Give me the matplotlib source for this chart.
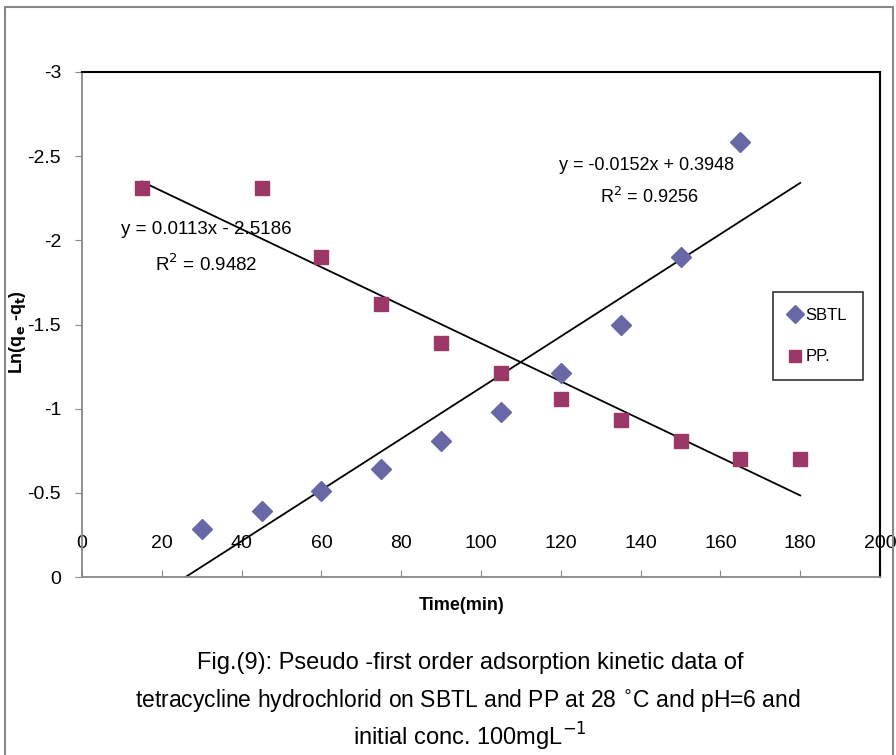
import matplotlib
matplotlib.use("Agg")
import matplotlib.pyplot as plt
import numpy as np
from matplotlib.patches import Rectangle

plt.rcParams['font.family'] = ['Liberation Sans', 'DejaVu Sans']

# Data
sbtl_x = [30, 45, 60, 75, 90, 105, 120, 135, 150, 165]
sbtl_y = [-0.285, -0.39, -0.51, -0.64, -0.81, -0.98, -1.21, -1.50, -1.90, -2.585]
pp_x = [15, 45, 60, 75, 90, 105, 120, 135, 150, 165, 180]
pp_y = [-2.31, -2.31, -1.90, -1.62, -1.39, -1.21, -1.06, -0.93, -0.81, -0.70, -0.70]

# Trendline coefficients (slope, intercept) from the chart equations
sbtl_fit = [-0.0152, 0.3948]
pp_fit = [0.0113, -2.5186]
trend_x = [15, 180]

x_ticks = [0, 20, 40, 60, 80, 100, 120, 140, 160, 180, 200]
y_ticks = [0, -0.5, -1, -1.5, -2, -2.5, -3]
y_tick_labels = ['0', '-0.5', '-1', '-1.5', '-2', '-2.5', '-3']

W, H = 896, 755
L, R, T, B = 82, 880, 72, 577
fig = plt.figure(figsize=(W / 100, H / 100), dpi=100)
ax = fig.add_axes([L / W, 1 - B / H, (R - L) / W, (B - T) / H])

c_sbtl = '#6868A6'
c_pp = '#9B3868'

ax.plot(sbtl_x, sbtl_y, linestyle='none', marker='D', ms=10.5, color=c_sbtl,
        mec=c_sbtl, label='SBTL', zorder=3)
ax.plot(pp_x, pp_y, linestyle='none', marker='s', ms=10.5, color=c_pp,
        mec=c_pp, label='PP.', zorder=3)

tx = np.array(trend_x, dtype=float)
ax.plot(tx, sbtl_fit[0] * tx + sbtl_fit[1], color='black', lw=1.3, zorder=2)
ax.plot(tx, pp_fit[0] * tx + pp_fit[1], color='black', lw=1.3, zorder=2)

ax.set_xlim(0, 200)
ax.set_ylim(0, -3)
ax.set_xticks(x_ticks)
ax.set_yticks(y_ticks)
ax.set_yticklabels(y_tick_labels)

ax.tick_params(axis='x', direction='in', length=5, pad=-30, labelsize=14,
               color='#888888')
ax.tick_params(axis='y', direction='out', length=5, labelsize=14,
               color='#888888', pad=10)

for s in ['left', 'bottom']:
    ax.spines[s].set_color('#888888')
    ax.spines[s].set_linewidth(1.3)
for s in ['top', 'right']:
    ax.spines[s].set_color('black')
    ax.spines[s].set_linewidth(1.5)


def px2data(px, py):
    return ((px - L) / (R - L) * 200, -(B - py) / (B - T) * 3)


x1, y1 = px2data(206, 230)
ax.text(x1, y1, 'y = 0.0113x - 2.5186', fontsize=13.5, ha='center', va='center')
x1, y1 = px2data(206, 264)
ax.text(x1, y1, r'R$^2$ = 0.9482', fontsize=13.5, ha='center', va='center')
x1, y1 = px2data(647, 166)
ax.text(x1, y1, 'y = -0.0152x + 0.3948', fontsize=13, ha='center', va='center')
x1, y1 = px2data(649, 197)
ax.text(x1, y1, r'R$^2$ = 0.9256', fontsize=13, ha='center', va='center')

leg = ax.legend(loc='upper left',
                bbox_to_anchor=((773 - L) / (R - L), 1 - (292 - T) / (B - T)),
                frameon=True, fancybox=False, edgecolor='black', fontsize=12,
                handlelength=0.7, handletextpad=0.3, labelspacing=1.6,
                borderpad=0.95, borderaxespad=0, markerscale=0.85)
leg.get_frame().set_linewidth(1.2)

fig.text(18 / W, 1 - 332 / H, r'Ln(q$_\mathbf{e}$ -q$_\mathbf{t}$)', rotation=90,
         fontsize=13, fontweight='bold', ha='center', va='center')
fig.text(462 / W, 1 - 605 / H, 'Time(min)', fontsize=13, fontweight='bold',
         ha='center', va='center')

fig.text(470 / W, 1 - 663 / H, 'Fig.(9): Pseudo -first order adsorption kinetic data of',
         fontsize=17, ha='center', va='center')
fig.text(468 / W, 1 - 700 / H,
         r'tetracycline hydrochlorid on SBTL and PP at 28 $^{\circ}$C and pH=6 and',
         fontsize=16.5, ha='center', va='center')
fig.text(470 / W, 1 - 737 / H, r'initial conc. 100mgL$^{-1}$',
         fontsize=17, ha='center', va='center')

fig.patches.append(Rectangle((5 / W, -0.05), (893 - 5) / W, 1.05 - 7 / H,
                             transform=fig.transFigure, fill=False,
                             edgecolor='#888888', linewidth=1.5))

fig.savefig('out.png', dpi=100)
